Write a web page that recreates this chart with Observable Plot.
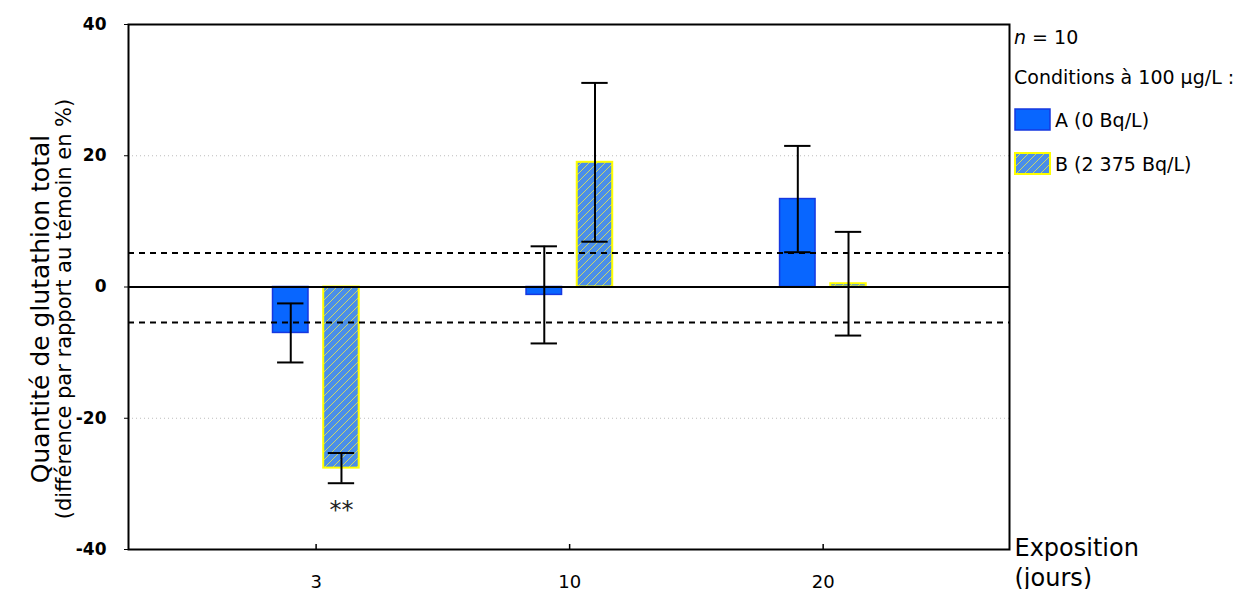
<!DOCTYPE html>
<html><head><meta charset="utf-8">
<script src="https://cdn.jsdelivr.net/npm/d3@7"></script>
<script src="https://cdn.jsdelivr.net/npm/@observablehq/plot@0.6"></script>
<style>
body{margin:0;background:#fff;font-family:"DejaVu Sans",sans-serif;}
#wrap{position:relative;width:1237px;height:589px;overflow:hidden;}
.leg{position:absolute;left:1014px;font-size:19px;color:#000;white-space:nowrap;line-height:1;}
.sw{position:absolute;left:1014px;width:37px;height:23px;}
</style></head><body><div id="wrap"></div>
<script>
// ---- data ----
const days = [3, 10, 20];
const meanA = [-7.0, -1.2, 13.4];
const errA = [4.5, 7.4, 8.1];
const meanB = [-27.6, 19.0, 0.5];
const errB = [2.3, 12.1, 7.9];
const signifB = ["**", "", ""];
const yTicks = [-40, -20, 0, 20, 40];
const gridValues = [-20, 20];
const thresholds = [5.2, -5.4];
const yDomain = [-40, 40];
const seriesNames = ["A (0 Bq/L)", "B (2 375 Bq/L)"];
const nLabel = "10";

// ---- derived rows ----
const offsets = {A: -0.1, B: 0.1};
const halfBar = 0.07, halfCap = 0.052;
const rowsA = days.map((d, i) => ({idx: i, day: d, series: "A", value: meanA[i], err: errA[i], sig: ""}));
const rowsB = days.map((d, i) => ({idx: i, day: d, series: "B", value: meanB[i], err: errB[i], sig: signifB[i]}));
const rows = rowsA.concat(rowsB);
const cx = d => d.idx + offsets[d.series];
const caps = rows.flatMap(d => [{c: cx(d), y: d.value - d.err}, {c: cx(d), y: d.value + d.err}]);

const defsMark = () => {
  const defs = d3.create("svg:defs");
  const p = defs.append("pattern").attr("id", "hatchB").attr("patternUnits", "userSpaceOnUse")
    .attr("width", 8).attr("height", 8);
  p.append("rect").attr("width", 8).attr("height", 8).attr("fill", "#4a8ee8");
  p.append("path").attr("d", "M-2,2 L2,-2 M0,8 L8,0 M6,10 L10,6")
    .attr("stroke", "#c9d66a").attr("stroke-width", 1);
  return defs.node();
};

const plot = Plot.plot({
  width: 1237,
  height: 589,
  marginLeft: 128,
  marginRight: 228,
  marginTop: 24,
  marginBottom: 40,
  style: {fontFamily: "DejaVu Sans, sans-serif", color: "#000", background: "white", overflow: "visible"},
  x: {type: "linear", domain: [-0.74, 2.735]},
  y: {domain: yDomain},
  marks: [
    defsMark,
    Plot.ruleY(gridValues, {stroke: "#bdbdbd", strokeDasharray: "1,3", strokeWidth: 1}),
    Plot.rect(rowsA, {x1: d => cx(d) - halfBar, x2: d => cx(d) + halfBar, y1: 0, y2: "value",
      fill: "#0866ff", stroke: "#1638e0", strokeWidth: 1.5}),
    Plot.rect(rowsB, {x1: d => cx(d) - halfBar, x2: d => cx(d) + halfBar, y1: 0, y2: "value",
      fill: "url(#hatchB)", stroke: "#ffff00", strokeWidth: 2}),
    Plot.ruleY(thresholds, {stroke: "#000", strokeWidth: 2, strokeDasharray: "6,5"}),
    Plot.ruleY([0], {stroke: "#000", strokeWidth: 2}),
    Plot.ruleX(rows, {x: cx, y1: d => d.value - d.err, y2: d => d.value + d.err, stroke: "#000", strokeWidth: 2}),
    Plot.ruleY(caps, {y: "y", x1: d => d.c - halfCap, x2: d => d.c + halfCap, stroke: "#000", strokeWidth: 2}),
    Plot.text(rows.filter(d => d.sig), {x: cx, y: d => d.value - d.err, text: "sig", dy: 27,
      fontSize: 24, fill: "#222"}),
    Plot.frame({stroke: "#000", strokeWidth: 2}),
    Plot.ruleX(days.map((d, i) => i), {x: d => d, y1: yDomain[0], y2: yDomain[0], insetTop: -5, stroke: "#000", strokeWidth: 1.5}),
    Plot.axisY({ticks: yTicks, tickSize: 4, tickPadding: 18, fontSize: 17, fontWeight: "bold",
      tickFormat: d => String(d), label: null}),
    Plot.axisX({ticks: days.map((d, i) => i), tickFormat: i => String(days[i]), tickSize: 0, tickPadding: 26,
      fontSize: 18, label: null}),
    Plot.text(["Quantité de glutathion total"], {frameAnchor: "left", textAnchor: "middle", rotate: -90, dx: -88, dy: 22, fontSize: 25, text: d => d}),
    Plot.text(["(différence par rapport au témoin en %)"], {frameAnchor: "left", textAnchor: "middle", rotate: -90, dx: -64, dy: 22, fontSize: 21, text: d => d}),
    Plot.text(["Exposition"], {frameAnchor: "bottom-right", textAnchor: "start", dx: 5, dy: 6, fontSize: 24, text: d => d}),
    Plot.text(["(jours)"], {frameAnchor: "bottom-right", textAnchor: "start", dx: 5, dy: 36, fontSize: 24, text: d => d})
  ]
});

const wrap = document.getElementById("wrap");
wrap.appendChild(plot);

function addDiv(html, cls, top) {
  const el = document.createElement("div");
  el.className = cls; el.style.top = top + "px"; el.innerHTML = html;
  wrap.appendChild(el);
  return el;
}
addDiv(`<i>n</i> = ${nLabel}`, "leg", 28);
addDiv("Conditions à 100 µg/L :", "leg", 68);
addDiv(`<svg width="37" height="23"><rect x="1" y="1" width="35" height="21" fill="#0866ff" stroke="#1638e0" stroke-width="1.5"/></svg>`, "sw", 108);
addDiv(seriesNames[0], "leg", 111).style.left = "1055px";
addDiv(`<svg width="37" height="23"><rect x="1" y="1" width="35" height="21" fill="url(#hatchB)" stroke="#ffff00" stroke-width="2"/></svg>`, "sw", 152);
addDiv(seriesNames[1], "leg", 155).style.left = "1055px";
</script>
</body></html>
